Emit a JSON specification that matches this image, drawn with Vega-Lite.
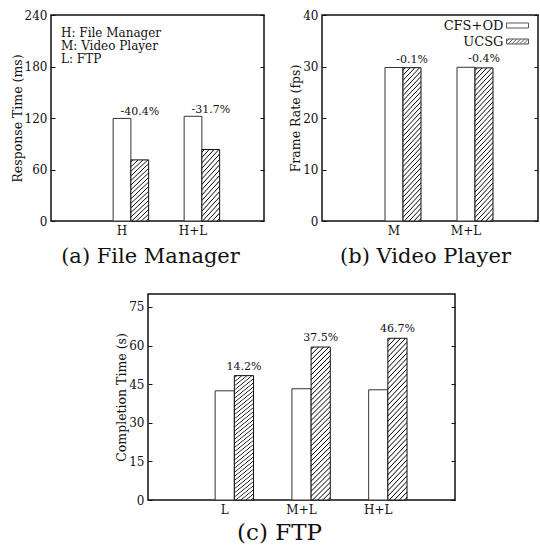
{
  "$schema": "https://vega.github.io/schema/vega-lite/v6.json",
  "padding": {"left": 10, "top": 8, "right": 0, "bottom": 0},
  "background": "white",
  "config": {
    "view": {"stroke": "#111", "strokeWidth": 1.5},
    "font": "DejaVu Serif",
    "axis": {"labelFont": "DejaVu Serif", "titleFont": "DejaVu Serif", "labelColor": "#111", "titleColor": "#111", "grid": false, "domain": false, "titleFontWeight": "normal"}
  },
  "spacing": 26,
  "resolve": {"scale": {"shape": "independent", "xOffset": "independent", "x": "independent", "y": "independent"}, "legend": {"shape": "independent"}},
  "vconcat": [
    {
      "bounds": "flush",
      "spacing": 58,
      "resolve": {"scale": {"shape": "independent", "xOffset": "independent", "x": "independent", "y": "independent"}, "legend": {"shape": "independent"}},
      "hconcat": [
        {
          "width": 213, "height": 206,
          "title": {"text": ["H: File Manager", "M: Video Player", "L: FTP"], "orient": "top", "anchor": "start", "frame": "group", "offset": -66, "dx": 10, "baseline": "alphabetic", "lineHeight": 13, "fontSize": 12, "font": "DejaVu Serif", "fontWeight": "normal", "color": "#111"},
          "data": {"values": [
            {"grp": "H", "system": "CFS+OD", "value": 119.5, "change": null},
            {"grp": "H", "system": "UCSG", "value": 71.2, "change": "-40.4%"},
            {"grp": "H+L", "system": "CFS+OD", "value": 122, "change": null},
            {"grp": "H+L", "system": "UCSG", "value": 83.3, "change": "-31.7%"}
          ]},
          "encoding": {
            "x": {"field": "grp", "type": "nominal", "sort": ["H", "H+L"], "scale": {"paddingInner": 0, "paddingOuter": 0.5},
              "axis": {"title": "(a) File Manager", "titleFontSize": 21, "titleX": 99, "titleY": 41, "titleBaseline": "alphabetic", "labelAngle": 0, "labelFontSize": 12, "labelPadding": 4, "ticks": false}},
            "xOffset": {"field": "system", "type": "nominal", "scale": {"domain": ["CFS+OD", "UCSG"], "paddingInner": 0, "paddingOuter": 1, "align": 0.75}}
          },
          "layer": [
            {"transform": [{"filter": "datum.system === 'CFS+OD'"}],
             "mark": {"type": "bar", "fill": "white", "stroke": "#333", "strokeWidth": 1},
             "encoding": {"y": {"field": "value", "type": "quantitative", "scale": {"domain": [0, 240], "nice": false},
               "axis": {"values": [0, 60, 120, 180, 240], "title": "Response Time (ms)", "titleFontSize": 12.5, "titlePadding": 0, "labelFontSize": 12, "labelPadding": 8, "tickSize": -4, "tickColor": "#111"}}}},
            {"transform": [{"filter": "datum.system === 'UCSG'"}],
             "mark": {"type": "bar", "stroke": "#111", "strokeWidth": 1,
               "fill": {"gradient": "linear", "x1": 0, "y1": 0, "x2": 0.3247, "y2": 1.185, "stops": [
                 {"offset": 0, "color": "#fff"},
                 {"offset": 0.0176, "color": "#fff"}, {"offset": 0.0294, "color": "#000"}, {"offset": 0.0412, "color": "#fff"},
                 {"offset": 0.0765, "color": "#fff"}, {"offset": 0.0882, "color": "#000"}, {"offset": 0.1000, "color": "#fff"},
                 {"offset": 0.1353, "color": "#fff"}, {"offset": 0.1471, "color": "#000"}, {"offset": 0.1588, "color": "#fff"},
                 {"offset": 0.1941, "color": "#fff"}, {"offset": 0.2059, "color": "#000"}, {"offset": 0.2176, "color": "#fff"},
                 {"offset": 0.2529, "color": "#fff"}, {"offset": 0.2647, "color": "#000"}, {"offset": 0.2765, "color": "#fff"},
                 {"offset": 0.3118, "color": "#fff"}, {"offset": 0.3235, "color": "#000"}, {"offset": 0.3353, "color": "#fff"},
                 {"offset": 0.3706, "color": "#fff"}, {"offset": 0.3824, "color": "#000"}, {"offset": 0.3941, "color": "#fff"},
                 {"offset": 0.4294, "color": "#fff"}, {"offset": 0.4412, "color": "#000"}, {"offset": 0.4529, "color": "#fff"},
                 {"offset": 0.4882, "color": "#fff"}, {"offset": 0.5000, "color": "#000"}, {"offset": 0.5118, "color": "#fff"},
                 {"offset": 0.5471, "color": "#fff"}, {"offset": 0.5588, "color": "#000"}, {"offset": 0.5706, "color": "#fff"},
                 {"offset": 0.6059, "color": "#fff"}, {"offset": 0.6176, "color": "#000"}, {"offset": 0.6294, "color": "#fff"},
                 {"offset": 0.6647, "color": "#fff"}, {"offset": 0.6765, "color": "#000"}, {"offset": 0.6882, "color": "#fff"},
                 {"offset": 0.7235, "color": "#fff"}, {"offset": 0.7353, "color": "#000"}, {"offset": 0.7471, "color": "#fff"},
                 {"offset": 0.7824, "color": "#fff"}, {"offset": 0.7941, "color": "#000"}, {"offset": 0.8059, "color": "#fff"},
                 {"offset": 0.8412, "color": "#fff"}, {"offset": 0.8529, "color": "#000"}, {"offset": 0.8647, "color": "#fff"},
                 {"offset": 0.9000, "color": "#fff"}, {"offset": 0.9118, "color": "#000"}, {"offset": 0.9235, "color": "#fff"},
                 {"offset": 0.9588, "color": "#fff"}, {"offset": 0.9706, "color": "#000"}, {"offset": 0.9824, "color": "#fff"},
                 {"offset": 1, "color": "#fff"}
               ]}},
             "encoding": {"y": {"field": "value", "type": "quantitative", "scale": {"domain": [0, 240], "nice": false},
               "axis": {"orient": "right", "values": [0, 60, 120, 180, 240], "labels": false, "title": null, "tickSize": -4, "tickColor": "#111"}}}},
            {"transform": [{"joinaggregate": [{"op": "max", "field": "value", "as": "gmax"}], "groupby": ["grp"]}, {"filter": "datum.system === 'UCSG'"}],
             "mark": {"type": "text", "dy": -3, "baseline": "alphabetic", "fontSize": 11, "font": "DejaVu Serif", "color": "#111"},
             "encoding": {"y": {"field": "gmax", "type": "quantitative", "scale": {"domain": [0, 240], "nice": false}, "axis": null}, "text": {"field": "change"}}}
          ],
          "resolve": {"axis": {"y": "independent"}}
        },
        {
          "width": 216, "height": 206,
          "data": {"values": [
            {"grp": "M", "system": "CFS+OD", "value": 29.8, "change": null},
            {"grp": "M", "system": "UCSG", "value": 29.77, "change": "-0.1%"},
            {"grp": "M+L", "system": "CFS+OD", "value": 29.85, "change": null},
            {"grp": "M+L", "system": "UCSG", "value": 29.73, "change": "-0.4%"}
          ]},
          "encoding": {
            "x": {"field": "grp", "type": "nominal", "sort": ["M", "M+L"], "scale": {"paddingInner": 0, "paddingOuter": 0.5},
              "axis": {"title": "(b) Video Player", "titleFontSize": 21, "titleX": 103, "titleY": 41, "titleBaseline": "alphabetic", "labelAngle": 0, "labelFontSize": 12, "labelPadding": 4, "ticks": false}},
            "xOffset": {"field": "system", "type": "nominal", "scale": {"domain": ["CFS+OD", "UCSG"], "paddingInner": 0, "paddingOuter": 1, "align": 0.75}}
          },
          "layer": [
            {"transform": [{"filter": "datum.system === 'CFS+OD'"}],
             "mark": {"type": "bar", "fill": "white", "stroke": "#333", "strokeWidth": 1},
             "encoding": {"y": {"field": "value", "type": "quantitative", "scale": {"domain": [0, 40], "nice": false},
               "axis": {"values": [0, 10, 20, 30, 40], "title": "Frame Rate (fps)", "titleFontSize": 12.5, "titlePadding": 0, "labelFontSize": 12, "labelPadding": 8, "tickSize": -4, "tickColor": "#111"}}}},
            {"transform": [{"filter": "datum.system === 'UCSG'"}],
             "mark": {"type": "bar", "stroke": "#111", "strokeWidth": 1,
               "fill": {"gradient": "linear", "x1": 0, "y1": 0, "x2": 0.1385, "y2": 1.1077, "stops": [
                 {"offset": 0, "color": "#fff"},
                 {"offset": 0.0088, "color": "#fff"}, {"offset": 0.0147, "color": "#000"}, {"offset": 0.0206, "color": "#fff"},
                 {"offset": 0.0382, "color": "#fff"}, {"offset": 0.0441, "color": "#000"}, {"offset": 0.0500, "color": "#fff"},
                 {"offset": 0.0676, "color": "#fff"}, {"offset": 0.0735, "color": "#000"}, {"offset": 0.0794, "color": "#fff"},
                 {"offset": 0.0971, "color": "#fff"}, {"offset": 0.1029, "color": "#000"}, {"offset": 0.1088, "color": "#fff"},
                 {"offset": 0.1265, "color": "#fff"}, {"offset": 0.1324, "color": "#000"}, {"offset": 0.1382, "color": "#fff"},
                 {"offset": 0.1559, "color": "#fff"}, {"offset": 0.1618, "color": "#000"}, {"offset": 0.1676, "color": "#fff"},
                 {"offset": 0.1853, "color": "#fff"}, {"offset": 0.1912, "color": "#000"}, {"offset": 0.1971, "color": "#fff"},
                 {"offset": 0.2147, "color": "#fff"}, {"offset": 0.2206, "color": "#000"}, {"offset": 0.2265, "color": "#fff"},
                 {"offset": 0.2441, "color": "#fff"}, {"offset": 0.2500, "color": "#000"}, {"offset": 0.2559, "color": "#fff"},
                 {"offset": 0.2735, "color": "#fff"}, {"offset": 0.2794, "color": "#000"}, {"offset": 0.2853, "color": "#fff"},
                 {"offset": 0.3029, "color": "#fff"}, {"offset": 0.3088, "color": "#000"}, {"offset": 0.3147, "color": "#fff"},
                 {"offset": 0.3324, "color": "#fff"}, {"offset": 0.3382, "color": "#000"}, {"offset": 0.3441, "color": "#fff"},
                 {"offset": 0.3618, "color": "#fff"}, {"offset": 0.3676, "color": "#000"}, {"offset": 0.3735, "color": "#fff"},
                 {"offset": 0.3912, "color": "#fff"}, {"offset": 0.3971, "color": "#000"}, {"offset": 0.4029, "color": "#fff"},
                 {"offset": 0.4206, "color": "#fff"}, {"offset": 0.4265, "color": "#000"}, {"offset": 0.4324, "color": "#fff"},
                 {"offset": 0.4500, "color": "#fff"}, {"offset": 0.4559, "color": "#000"}, {"offset": 0.4618, "color": "#fff"},
                 {"offset": 0.4794, "color": "#fff"}, {"offset": 0.4853, "color": "#000"}, {"offset": 0.4912, "color": "#fff"},
                 {"offset": 0.5088, "color": "#fff"}, {"offset": 0.5147, "color": "#000"}, {"offset": 0.5206, "color": "#fff"},
                 {"offset": 0.5382, "color": "#fff"}, {"offset": 0.5441, "color": "#000"}, {"offset": 0.5500, "color": "#fff"},
                 {"offset": 0.5676, "color": "#fff"}, {"offset": 0.5735, "color": "#000"}, {"offset": 0.5794, "color": "#fff"},
                 {"offset": 0.5971, "color": "#fff"}, {"offset": 0.6029, "color": "#000"}, {"offset": 0.6088, "color": "#fff"},
                 {"offset": 0.6265, "color": "#fff"}, {"offset": 0.6324, "color": "#000"}, {"offset": 0.6382, "color": "#fff"},
                 {"offset": 0.6559, "color": "#fff"}, {"offset": 0.6618, "color": "#000"}, {"offset": 0.6676, "color": "#fff"},
                 {"offset": 0.6853, "color": "#fff"}, {"offset": 0.6912, "color": "#000"}, {"offset": 0.6971, "color": "#fff"},
                 {"offset": 0.7147, "color": "#fff"}, {"offset": 0.7206, "color": "#000"}, {"offset": 0.7265, "color": "#fff"},
                 {"offset": 0.7441, "color": "#fff"}, {"offset": 0.7500, "color": "#000"}, {"offset": 0.7559, "color": "#fff"},
                 {"offset": 0.7735, "color": "#fff"}, {"offset": 0.7794, "color": "#000"}, {"offset": 0.7853, "color": "#fff"},
                 {"offset": 0.8029, "color": "#fff"}, {"offset": 0.8088, "color": "#000"}, {"offset": 0.8147, "color": "#fff"},
                 {"offset": 0.8324, "color": "#fff"}, {"offset": 0.8382, "color": "#000"}, {"offset": 0.8441, "color": "#fff"},
                 {"offset": 0.8618, "color": "#fff"}, {"offset": 0.8676, "color": "#000"}, {"offset": 0.8735, "color": "#fff"},
                 {"offset": 0.8912, "color": "#fff"}, {"offset": 0.8971, "color": "#000"}, {"offset": 0.9029, "color": "#fff"},
                 {"offset": 0.9206, "color": "#fff"}, {"offset": 0.9265, "color": "#000"}, {"offset": 0.9324, "color": "#fff"},
                 {"offset": 0.9500, "color": "#fff"}, {"offset": 0.9559, "color": "#000"}, {"offset": 0.9618, "color": "#fff"},
                 {"offset": 0.9794, "color": "#fff"}, {"offset": 0.9853, "color": "#000"}, {"offset": 0.9912, "color": "#fff"},
                 {"offset": 1, "color": "#fff"}
               ]}},
             "encoding": {"y": {"field": "value", "type": "quantitative", "scale": {"domain": [0, 40], "nice": false},
               "axis": {"orient": "right", "values": [0, 10, 20, 30, 40], "labels": false, "title": null, "tickSize": -4, "tickColor": "#111"}}}},
            {"transform": [{"joinaggregate": [{"op": "max", "field": "value", "as": "gmax"}], "groupby": ["grp"]}, {"filter": "datum.system === 'UCSG'"}],
             "mark": {"type": "text", "dy": -5, "baseline": "alphabetic", "fontSize": 11, "font": "DejaVu Serif", "color": "#111"},
             "encoding": {"y": {"field": "gmax", "type": "quantitative", "scale": {"domain": [0, 40], "nice": false}, "axis": null}, "text": {"field": "change"}}},
            {"mark": {"type": "point", "clip": true, "filled": false, "color": "#111", "strokeWidth": 1},
             "encoding": {
               "y": {"datum": -20, "type": "quantitative", "scale": {"domain": [0, 40], "nice": false}, "axis": null},
               "shape": {"field": "system", "type": "nominal",
                 "scale": {"domain": ["CFS+OD", "UCSG"], "range": ["M-2.2,-0.5H2.2V0.5H-2.2Z", "M-2.2,-0.5H2.2V0.5H-2.2Z M-2.2,0L-1.7,-0.5 M-1.92,0.5L-0.92,-0.5 M-1.14,0.5L-0.14,-0.5 M-0.36,0.5L0.64,-0.5 M0.42,0.5L1.42,-0.5 M1.2,0.5L2.2,-0.5 M1.98,0.5L2.2,0.28"]},
                 "legend": {"title": null, "orient": "none", "legendX": 189, "legendY": 4, "direction": "vertical", "labelFont": "DejaVu Serif", "labelFontSize": 13, "labelColor": "#111", "labelAlign": "right", "labelOffset": -20.5, "symbolSize": 100, "symbolStrokeWidth": 1, "symbolStrokeColor": "#111", "symbolFillColor": "white", "rowPadding": 2, "padding": 0, "labelLimit": 300}}
             }}
          ],
          "resolve": {"axis": {"y": "independent"}}
        }
      ]
    },
    {
      "bounds": "flush",
      "spacing": 96,
      "resolve": {"scale": {"shape": "independent", "xOffset": "independent", "x": "independent", "y": "independent"}},
      "hconcat": [
        {"width": 1, "height": 206, "data": {"values": [{"a": 1}]}, "mark": {"type": "point", "opacity": 0}, "view": {"stroke": null}},
        {
          "width": 307, "height": 206,
          "data": {"values": [
            {"grp": "L", "system": "CFS+OD", "value": 42.4, "change": null},
            {"grp": "L", "system": "UCSG", "value": 48.3, "change": "14.2%"},
            {"grp": "M+L", "system": "CFS+OD", "value": 43.2, "change": null},
            {"grp": "M+L", "system": "UCSG", "value": 59.4, "change": "37.5%"},
            {"grp": "H+L", "system": "CFS+OD", "value": 42.8, "change": null},
            {"grp": "H+L", "system": "UCSG", "value": 62.8, "change": "46.7%"}
          ]},
          "encoding": {
            "x": {"field": "grp", "type": "nominal", "sort": ["L", "M+L", "H+L"], "scale": {"paddingInner": 0, "paddingOuter": 0.5},
              "axis": {"title": "(c) FTP", "titleFontSize": 23, "titleX": 131, "titleY": 39, "titleBaseline": "alphabetic", "labelAngle": 0, "labelFontSize": 12, "labelPadding": 4, "ticks": false}},
            "xOffset": {"field": "system", "type": "nominal", "scale": {"domain": ["CFS+OD", "UCSG"], "paddingInner": 0, "paddingOuter": 1, "align": 0.75}}
          },
          "layer": [
            {"transform": [{"filter": "datum.system === 'CFS+OD'"}],
             "mark": {"type": "bar", "fill": "white", "stroke": "#333", "strokeWidth": 1},
             "encoding": {"y": {"field": "value", "type": "quantitative", "scale": {"domain": [0, 80], "nice": false},
               "axis": {"values": [0, 15, 30, 45, 60, 75], "title": "Completion Time (s)", "titleFontSize": 12.5, "titlePadding": 0, "labelFontSize": 12, "labelPadding": 8, "tickSize": -4, "tickColor": "#111"}}}},
            {"transform": [{"filter": "datum.system === 'UCSG'"}],
             "mark": {"type": "bar", "stroke": "#111", "strokeWidth": 1,
               "fill": {"gradient": "linear", "x1": 0, "y1": 0, "x2": 0.1385, "y2": 1.1077, "stops": [
                 {"offset": 0, "color": "#fff"},
                 {"offset": 0.0088, "color": "#fff"}, {"offset": 0.0147, "color": "#000"}, {"offset": 0.0206, "color": "#fff"},
                 {"offset": 0.0382, "color": "#fff"}, {"offset": 0.0441, "color": "#000"}, {"offset": 0.0500, "color": "#fff"},
                 {"offset": 0.0676, "color": "#fff"}, {"offset": 0.0735, "color": "#000"}, {"offset": 0.0794, "color": "#fff"},
                 {"offset": 0.0971, "color": "#fff"}, {"offset": 0.1029, "color": "#000"}, {"offset": 0.1088, "color": "#fff"},
                 {"offset": 0.1265, "color": "#fff"}, {"offset": 0.1324, "color": "#000"}, {"offset": 0.1382, "color": "#fff"},
                 {"offset": 0.1559, "color": "#fff"}, {"offset": 0.1618, "color": "#000"}, {"offset": 0.1676, "color": "#fff"},
                 {"offset": 0.1853, "color": "#fff"}, {"offset": 0.1912, "color": "#000"}, {"offset": 0.1971, "color": "#fff"},
                 {"offset": 0.2147, "color": "#fff"}, {"offset": 0.2206, "color": "#000"}, {"offset": 0.2265, "color": "#fff"},
                 {"offset": 0.2441, "color": "#fff"}, {"offset": 0.2500, "color": "#000"}, {"offset": 0.2559, "color": "#fff"},
                 {"offset": 0.2735, "color": "#fff"}, {"offset": 0.2794, "color": "#000"}, {"offset": 0.2853, "color": "#fff"},
                 {"offset": 0.3029, "color": "#fff"}, {"offset": 0.3088, "color": "#000"}, {"offset": 0.3147, "color": "#fff"},
                 {"offset": 0.3324, "color": "#fff"}, {"offset": 0.3382, "color": "#000"}, {"offset": 0.3441, "color": "#fff"},
                 {"offset": 0.3618, "color": "#fff"}, {"offset": 0.3676, "color": "#000"}, {"offset": 0.3735, "color": "#fff"},
                 {"offset": 0.3912, "color": "#fff"}, {"offset": 0.3971, "color": "#000"}, {"offset": 0.4029, "color": "#fff"},
                 {"offset": 0.4206, "color": "#fff"}, {"offset": 0.4265, "color": "#000"}, {"offset": 0.4324, "color": "#fff"},
                 {"offset": 0.4500, "color": "#fff"}, {"offset": 0.4559, "color": "#000"}, {"offset": 0.4618, "color": "#fff"},
                 {"offset": 0.4794, "color": "#fff"}, {"offset": 0.4853, "color": "#000"}, {"offset": 0.4912, "color": "#fff"},
                 {"offset": 0.5088, "color": "#fff"}, {"offset": 0.5147, "color": "#000"}, {"offset": 0.5206, "color": "#fff"},
                 {"offset": 0.5382, "color": "#fff"}, {"offset": 0.5441, "color": "#000"}, {"offset": 0.5500, "color": "#fff"},
                 {"offset": 0.5676, "color": "#fff"}, {"offset": 0.5735, "color": "#000"}, {"offset": 0.5794, "color": "#fff"},
                 {"offset": 0.5971, "color": "#fff"}, {"offset": 0.6029, "color": "#000"}, {"offset": 0.6088, "color": "#fff"},
                 {"offset": 0.6265, "color": "#fff"}, {"offset": 0.6324, "color": "#000"}, {"offset": 0.6382, "color": "#fff"},
                 {"offset": 0.6559, "color": "#fff"}, {"offset": 0.6618, "color": "#000"}, {"offset": 0.6676, "color": "#fff"},
                 {"offset": 0.6853, "color": "#fff"}, {"offset": 0.6912, "color": "#000"}, {"offset": 0.6971, "color": "#fff"},
                 {"offset": 0.7147, "color": "#fff"}, {"offset": 0.7206, "color": "#000"}, {"offset": 0.7265, "color": "#fff"},
                 {"offset": 0.7441, "color": "#fff"}, {"offset": 0.7500, "color": "#000"}, {"offset": 0.7559, "color": "#fff"},
                 {"offset": 0.7735, "color": "#fff"}, {"offset": 0.7794, "color": "#000"}, {"offset": 0.7853, "color": "#fff"},
                 {"offset": 0.8029, "color": "#fff"}, {"offset": 0.8088, "color": "#000"}, {"offset": 0.8147, "color": "#fff"},
                 {"offset": 0.8324, "color": "#fff"}, {"offset": 0.8382, "color": "#000"}, {"offset": 0.8441, "color": "#fff"},
                 {"offset": 0.8618, "color": "#fff"}, {"offset": 0.8676, "color": "#000"}, {"offset": 0.8735, "color": "#fff"},
                 {"offset": 0.8912, "color": "#fff"}, {"offset": 0.8971, "color": "#000"}, {"offset": 0.9029, "color": "#fff"},
                 {"offset": 0.9206, "color": "#fff"}, {"offset": 0.9265, "color": "#000"}, {"offset": 0.9324, "color": "#fff"},
                 {"offset": 0.9500, "color": "#fff"}, {"offset": 0.9559, "color": "#000"}, {"offset": 0.9618, "color": "#fff"},
                 {"offset": 0.9794, "color": "#fff"}, {"offset": 0.9853, "color": "#000"}, {"offset": 0.9912, "color": "#fff"},
                 {"offset": 1, "color": "#fff"}
               ]}},
             "encoding": {"y": {"field": "value", "type": "quantitative", "scale": {"domain": [0, 80], "nice": false},
               "axis": {"orient": "right", "values": [0, 15, 30, 45, 60, 75], "labels": false, "title": null, "tickSize": -4, "tickColor": "#111"}}}},
            {"transform": [{"joinaggregate": [{"op": "max", "field": "value", "as": "gmax"}], "groupby": ["grp"]}, {"filter": "datum.system === 'UCSG'"}],
             "mark": {"type": "text", "dy": -6, "baseline": "alphabetic", "fontSize": 11, "font": "DejaVu Serif", "color": "#111"},
             "encoding": {"y": {"field": "gmax", "type": "quantitative", "scale": {"domain": [0, 80], "nice": false}, "axis": null}, "text": {"field": "change"}}}
          ],
          "resolve": {"axis": {"y": "independent"}}
        }
      ]
    }
  ]
}
